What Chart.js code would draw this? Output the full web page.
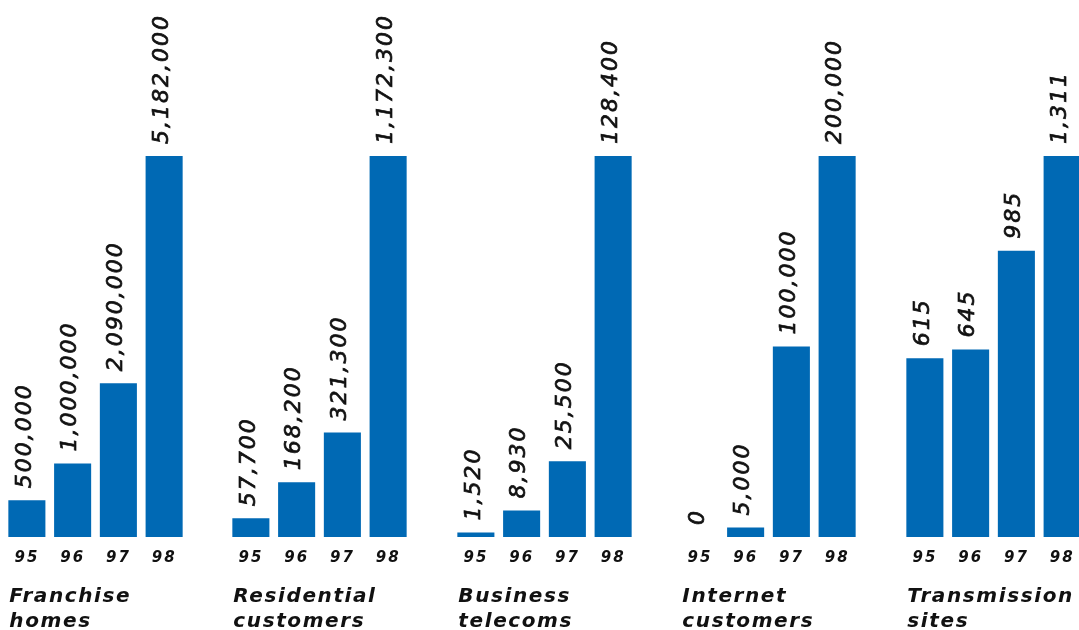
<!DOCTYPE html>
<html>
<head>
<meta charset="utf-8">
<script src="https://cdn.jsdelivr.net/npm/chart.js@4/dist/chart.umd.min.js"></script>
<style>
  html, body { margin: 0; padding: 0; background: #ffffff; width: 1079px; height: 630px; overflow: hidden; }
  .panel { position: absolute; top: 0; }
</style>
</head>
<body>
<div id="wrap"></div>
<script>
// Years shown under every group of bars
const years = ['95', '96', '97', '98'];

// One small series per indicator
const franchiseHomes       = [500000, 1000000, 2090000, 5182000];
const residentialCustomers = [57700, 168200, 321300, 1172300];
const businessTelecoms     = [1520, 8930, 25500, 128400];
const internetCustomers    = [0, 5000, 100000, 200000];
const transmissionSites    = [615, 645, 985, 1311];

// Two-line captions for each group
const captions = [
  ['Franchise', 'homes'],
  ['Residential', 'customers'],
  ['Business', 'telecoms'],
  ['Internet', 'customers'],
  ['Transmission', 'sites']
];

const groups = [franchiseHomes, residentialCustomers, businessTelecoms, internetCustomers, transmissionSites];

const BAR_BLUE = '#0069b4';
const INK = '#111111';
const FONT = '"DejaVu Sans", Verdana, sans-serif';

// Each group gets its own scale: the tallest bar reaches the same height everywhere
const PANEL_W = 183;
const PANEL_H = 630;
const PANEL_STEP = 224.5;
const PANEL_X0 = 3.7;
const BASELINE = 537;
const PEAK_HEIGHT = 381;

const labelPlugin = {
  id: 'groupLabels',
  beforeDraw(chart) {
    chart.ctx.letterSpacing = '2px';
  },
  afterDatasetsDraw(chart) {
    const ctx = chart.ctx;
    const meta = chart.getDatasetMeta(0);
    const values = chart.data.datasets[0].data;
    ctx.save();
    ctx.letterSpacing = '2px';
    ctx.fillStyle = INK;
    ctx.strokeStyle = INK;
    ctx.lineWidth = 0.7;
    ctx.font = 'italic 22px ' + FONT;
    ctx.textAlign = 'left';
    ctx.textBaseline = 'middle';
    meta.data.forEach((bar, i) => {
      const text = values[i].toLocaleString('en-US');
      ctx.save();
      ctx.translate(bar.x - 2, bar.y - 12);
      ctx.rotate(-Math.PI / 2);
      ctx.fillText(text, 0, 0);
      ctx.strokeText(text, 0, 0);
      ctx.restore();
    });
    ctx.restore();
  },
  afterDraw(chart) {
    const ctx = chart.ctx;
    const meta = chart.getDatasetMeta(0);
    const first = meta.data[0];
    const x = first.x - first.width / 2 + 1;
    const lines = chart.options.plugins.groupLabels.lines;
    ctx.save();
    ctx.letterSpacing = '1.6px';
    ctx.fillStyle = INK;
    ctx.font = 'italic bold 20px ' + FONT;
    ctx.textAlign = 'left';
    ctx.textBaseline = 'alphabetic';
    lines.forEach((line, k) => ctx.fillText(line, x, 602 + k * 25));
    ctx.restore();
  }
};

const wrap = document.getElementById('wrap');
groups.forEach((values, g) => {
  const div = document.createElement('div');
  div.className = 'panel';
  div.style.left = (PANEL_X0 + g * PANEL_STEP) + 'px';
  const canvas = document.createElement('canvas');
  canvas.width = PANEL_W;
  canvas.height = PANEL_H;
  div.appendChild(canvas);
  wrap.appendChild(div);

  const peak = Math.max(...values);
  new Chart(canvas, {
    type: 'bar',
    data: {
      labels: years,
      datasets: [{
        data: values,
        backgroundColor: BAR_BLUE,
        borderWidth: 0,
        barPercentage: 0.81,
        categoryPercentage: 1
      }]
    },
    options: {
      responsive: false,
      animation: false,
      devicePixelRatio: 1,
      layout: { padding: { top: 0, left: 0, right: 0, bottom: 51 } },
      plugins: {
        legend: { display: false },
        tooltip: { enabled: false },
        groupLabels: { lines: captions[g] }
      },
      scales: {
        x: {
          grid: { display: false, drawTicks: false },
          border: { display: false },
          ticks: {
            color: INK,
            padding: 12,
            maxRotation: 0,
            font: { family: FONT, size: 15, style: 'italic', weight: 'bold' }
          }
        },
        y: {
          display: false,
          min: 0,
          max: peak * BASELINE / PEAK_HEIGHT
        }
      }
    },
    plugins: [labelPlugin]
  });
});
</script>
</body>
</html>
